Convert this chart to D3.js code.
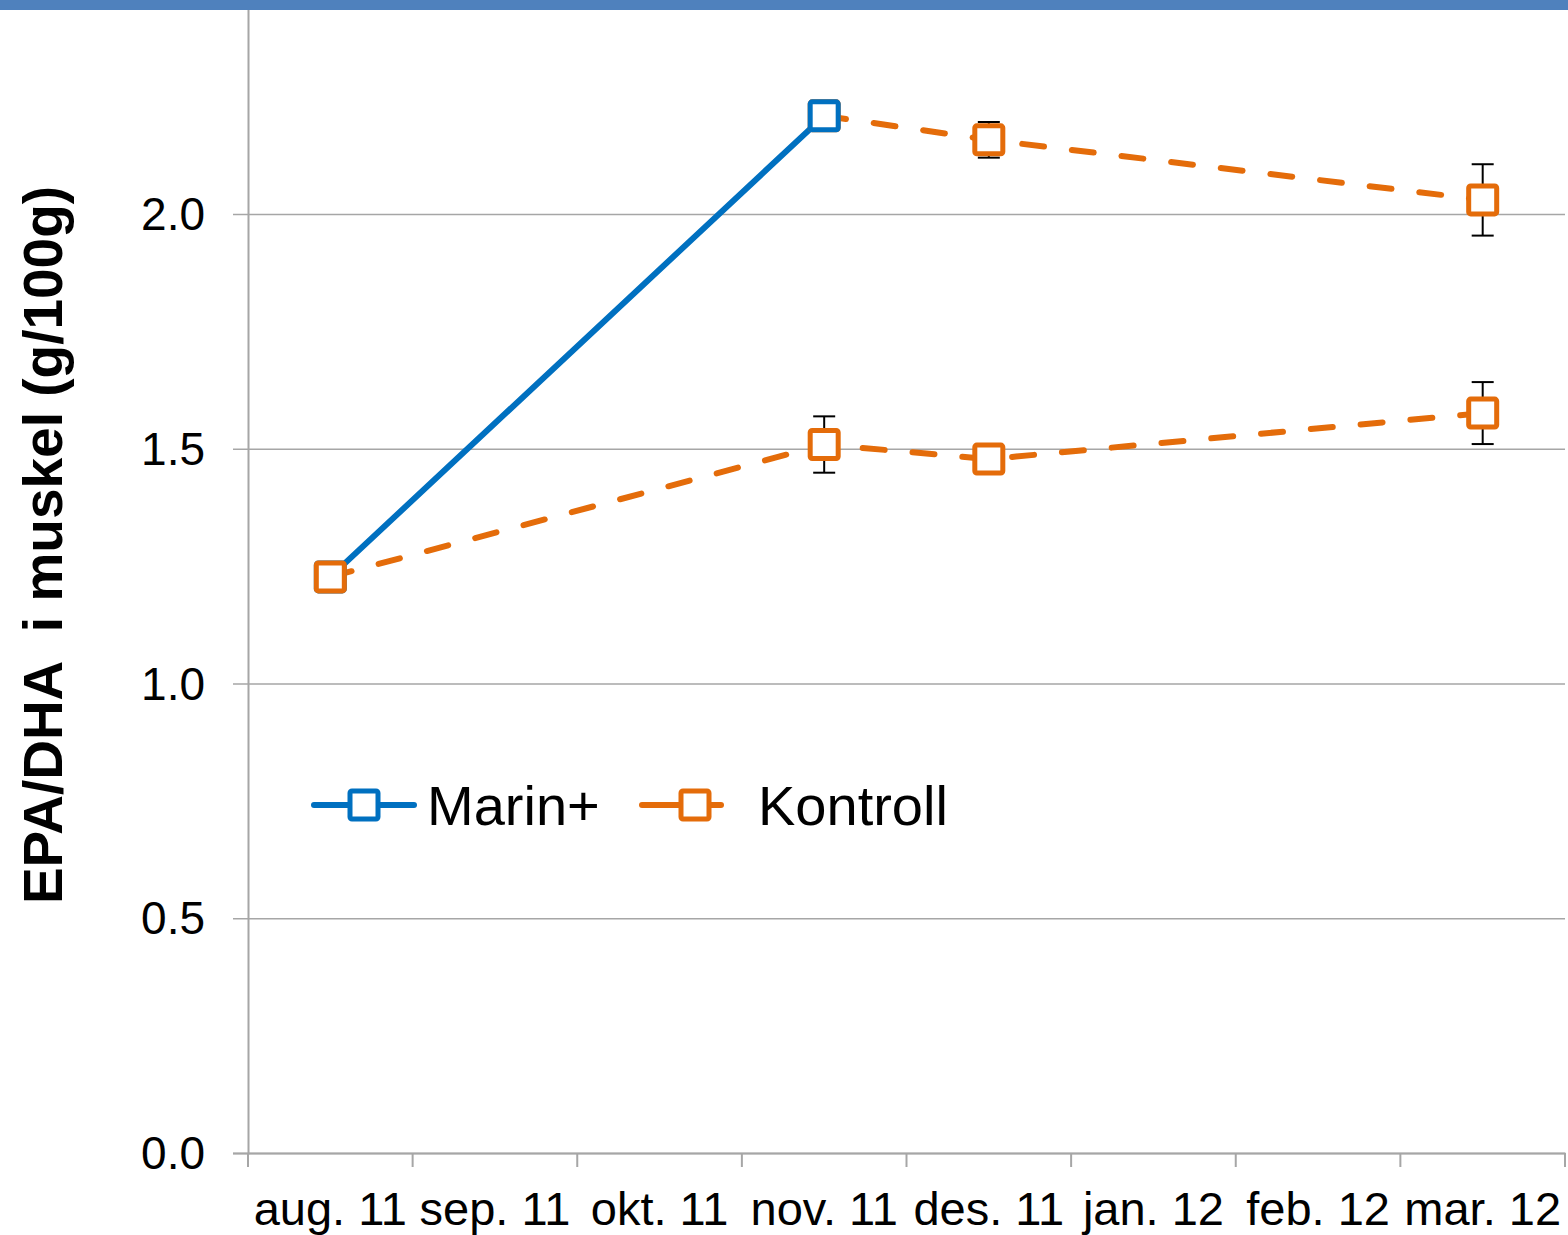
<!DOCTYPE html>
<html>
<head>
<meta charset="utf-8">
<script src="https://cdn.jsdelivr.net/npm/d3@7"></script>
<style>
  html, body { margin: 0; padding: 0; background: #fff; }
  svg { display: block; }
  text { font-family: "Liberation Sans", Arial, sans-serif; fill: #000; }
</style>
</head>
<body>
<svg id="chart" width="1568" height="1235"></svg>
<script>
// Sampling months on the category axis
const months = ["aug. 11", "sep. 11", "okt. 11", "nov. 11", "des. 11", "jan. 12", "feb. 12", "mar. 12"];
const yTicks = [0, 0.5, 1.0, 1.5, 2.0];

// Marin+ feed group (aug -> nov)
const marinMonths = ["aug. 11", "nov. 11"];
const marinValues = [1.227, 2.209];
const marinErr = [null, null];

// Marin+ group after switching to control feed (nov -> mar)
const switchMonths = ["nov. 11", "des. 11", "mar. 12"];
const switchValues = [2.209, 2.158, 2.030];
const switchErr = [null, 0.038, 0.076];

// Kontroll group
const kontrollMonths = ["aug. 11", "nov. 11", "des. 11", "mar. 12"];
const kontrollValues = [1.227, 1.509, 1.478, 1.576];
const kontrollErr = [null, 0.060, null, 0.066];

const BLUE = "#0070C0";
const ORANGE = "#E46C0A";
const GRID = "#a6a6a6";
const LW = 6;

const svg = d3.select("#chart");

const x = d3.scaleBand().domain(months).range([248, 1565]).padding(0);
const y = d3.scaleLinear().domain([0, 2.5]).range([1153, 1153 - 2.5 * 469.5]);
const cx = m => x(m) + x.bandwidth() / 2;

// Horizontal gridlines and y axis
const yAxis = d3.axisLeft(y).tickValues(yTicks).tickFormat(d3.format(".1f"))
  .tickSize(15).tickPadding(28);
const gy = svg.append("g").attr("transform", "translate(248,0)").call(yAxis);
gy.select(".domain").attr("stroke", GRID).attr("stroke-width", 2);
gy.selectAll(".tick line").attr("stroke", GRID).attr("stroke-width", 1.5);
gy.selectAll(".tick text").style("font-size", "46px").attr("dy", "0.34em");
gy.selectAll(".tick").append("line")
  .attr("x1", 0).attr("x2", 1565 - 248)
  .attr("stroke", GRID).attr("stroke-width", 1.5);

// Category axis with ticks at band edges
const xAxis = d3.axisBottom(x).tickSize(0).tickPadding(48);
const gx = svg.append("g").attr("transform", "translate(0,1153)").call(xAxis);
gx.select(".domain").attr("stroke", GRID).attr("stroke-width", 2);
gx.selectAll(".tick text").style("font-size", "47px").attr("dy", "0.5em");
gx.selectAll(".edge").data(months.concat(["__end"])).enter().append("line")
  .attr("class", "edge")
  .attr("x1", (d, i) => 248 + i * x.bandwidth())
  .attr("x2", (d, i) => 248 + i * x.bandwidth())
  .attr("y1", 0).attr("y2", 14)
  .attr("stroke", GRID).attr("stroke-width", 2);

const series = [
  { months: switchMonths, values: switchValues, err: switchErr, color: ORANGE, dash: "22,28" },
  { months: marinMonths, values: marinValues, err: marinErr, color: BLUE, dash: null },
  { months: kontrollMonths, values: kontrollValues, err: kontrollErr, color: ORANGE, dash: "22,28" }
];

const line = d3.line().x(d => cx(d.m)).y(d => y(d.v));
const pts = s => s.months.map((m, i) => ({ m, v: s.values[i], e: s.err[i] }));

// Lines
series.forEach(s => {
  svg.append("path").datum(pts(s))
    .attr("d", line)
    .attr("fill", "none")
    .attr("stroke", s.color)
    .attr("stroke-width", LW)
    .attr("stroke-linecap", "round")
    .attr("stroke-linejoin", "round")
    .attr("stroke-dasharray", s.dash);
});

// Error bars
const cap = 11;
series.forEach(s => {
  const g = svg.append("g").attr("stroke", "#000").attr("stroke-width", 2);
  pts(s).filter(d => d.e != null).forEach(d => {
    const xc = cx(d.m), y1 = y(d.v + d.e), y0 = y(d.v - d.e);
    g.append("line").attr("x1", xc).attr("x2", xc).attr("y1", y1).attr("y2", y0);
    g.append("line").attr("x1", xc - cap).attr("x2", xc + cap).attr("y1", y1).attr("y2", y1);
    g.append("line").attr("x1", xc - cap).attr("x2", xc + cap).attr("y1", y0).attr("y2", y0);
  });
});

// Square markers
const MS = 28;
series.forEach(s => {
  svg.append("g").selectAll("rect").data(pts(s)).enter().append("rect")
    .attr("x", d => cx(d.m) - MS / 2)
    .attr("y", d => y(d.v) - MS / 2)
    .attr("width", MS).attr("height", MS)
    .attr("rx", 2)
    .attr("fill", "#fff")
    .attr("stroke", s.color)
    .attr("stroke-width", 5);
});

// Legend
const legend = svg.append("g");
function legendItem(x0, x1, xm, xt, color, dashed, label) {
  const ly = 805;
  if (dashed) {
    legend.append("line").attr("x1", x0).attr("x2", xm - MS / 2).attr("y1", ly).attr("y2", ly)
      .attr("stroke", color).attr("stroke-width", LW).attr("stroke-linecap", "round");
    legend.append("line").attr("x1", xm + MS / 2).attr("x2", x1).attr("y1", ly).attr("y2", ly)
      .attr("stroke", color).attr("stroke-width", LW).attr("stroke-linecap", "round");
  } else {
    legend.append("line").attr("x1", x0).attr("x2", x1).attr("y1", ly).attr("y2", ly)
      .attr("stroke", color).attr("stroke-width", LW).attr("stroke-linecap", "round");
  }
  legend.append("rect").attr("x", xm - MS / 2).attr("y", ly - MS / 2)
    .attr("width", MS).attr("height", MS).attr("rx", 2)
    .attr("fill", "#fff").attr("stroke", color).attr("stroke-width", 5);
  legend.append("text").attr("x", xt).attr("y", ly + 20)
    .style("font-size", "56px").text(label);
}
legendItem(314, 414, 364, 427, BLUE, false, "Marin+");
legendItem(642, 721, 695, 758, ORANGE, true, "Kontroll");

// Y axis title
svg.append("text")
  .attr("transform", "translate(62,545) rotate(-90)")
  .attr("text-anchor", "middle")
  .style("font-size", "55px")
  .style("font-weight", "bold")
  .style("white-space", "pre")
  .attr("xml:space", "preserve")
  .text("EPA/DHA  i muskel (g/100g)");

// Header band across the top
svg.append("rect").attr("x", 0).attr("y", 0).attr("width", 1568).attr("height", 10)
  .attr("fill", "#4F81BD");
</script>
</body>
</html>
